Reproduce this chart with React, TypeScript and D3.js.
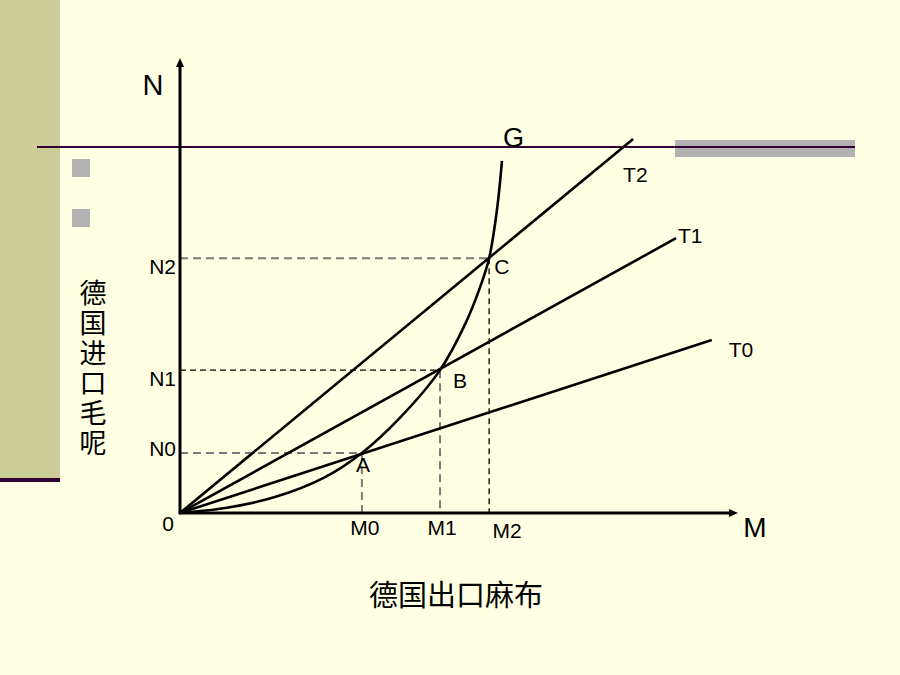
import * as d3 from "d3";

const W = 900;
const H = 675;

// offer curve G (德国), in axis units (0..10)
const G_M = [0, 0.81, 1.7, 2.6, 3.26, 3.94, 4.66, 5.11, 5.38, 5.54, 5.68, 5.77];
const G_N = [0, 0.11, 0.35, 0.79, 1.32, 2.09, 3.14, 4.15, 4.97, 5.6, 6.66, 7.74];

// terms-of-trade rays from the origin
const T_LABELS = ["T0", "T1", "T2"];
const T_END_M = [9.53, 8.89, 8.12];
const T_END_N = [3.8, 6.04, 8.22];

// equilibrium points
const EQ_LABELS = ["A", "B", "C"];
const EQ_M = [3.26, 4.66, 5.54];
const EQ_N = [1.32, 3.14, 5.6];
const M_TICKS = ["M0", "M1", "M2"];
const N_TICKS = ["N0", "N1", "N2"];

const Y_TITLE = "德国进口毛呢";
const X_TITLE = "德国出口麻布";

const LATIN = "'Liberation Sans', Arial, sans-serif";
const CJK = "'Noto Sans CJK SC', sans-serif";

export default function App() {
  const x = d3.scaleLinear().domain([0, 10]).range([180, 738]);
  const y = d3.scaleLinear().domain([0, 10]).range([513, 58]);

  const gLine = d3
    .line<number>()
    .x((d) => x(G_M[d]))
    .y((d) => y(G_N[d]))
    .curve(d3.curveCatmullRom.alpha(0.5));

  // hand nudges for labels, as on the slide
  const tNudge = [
    [17, 17],
    [2, 5],
    [-10, 43],
  ];
  const eqNudge = [
    [-6, 19],
    [13, 18],
    [5, 16],
  ];
  const nNudge = [3, 16, 16];
  const mNudge = [
    [3, 22],
    [2, 22],
    [18, 25],
  ];
  const hDash = ["#7a7a7a", "#000", "#7a7a7a"];
  const vDash = ["#7a7a7a", "#7a7a7a", "#000"];

  const x0 = x(0);
  const y0 = y(0);

  return (
    <svg
      width={W}
      height={H}
      style={{ position: "absolute", left: 0, top: 0, display: "block" }}
    >
      <rect width={W} height={H} fill="#FFFFE3" />
      {/* slide decoration */}
      <rect x={0} y={0} width={60} height={478} fill="#CCCC99" />
      <rect x={0} y={478} width={60} height={4} fill="#330033" />
      <rect x={675} y={140} width={180} height={17} fill="#B2B2B2" />
      <line x1={37} x2={855} y1={147} y2={147} stroke="#330033" strokeWidth={2} />
      <rect x={72} y={159} width={18} height={18} fill="#B2B2B2" />
      <rect x={72} y={209} width={18} height={18} fill="#B2B2B2" />

      {/* dashed guides */}
      {EQ_M.map((m, i) => (
        <g key={"d" + i} fill="none">
          <line
            x1={x0}
            x2={x(m)}
            y1={y(EQ_N[i])}
            y2={y(EQ_N[i])}
            stroke={hDash[i]}
            strokeWidth={hDash[i] === "#000" ? 1.3 : 2}
            strokeDasharray={hDash[i] === "#000" ? "6 4" : "8 5"}
          />
          <line
            x1={x(m)}
            x2={x(m)}
            y1={y(EQ_N[i])}
            y2={y0}
            stroke={vDash[i]}
            strokeWidth={vDash[i] === "#000" ? 1.3 : 2}
            strokeDasharray={vDash[i] === "#000" ? "6 4" : "8 5"}
          />
        </g>
      ))}

      {/* rays */}
      {T_END_M.map((m, i) => (
        <g key={"t" + i}>
          <line
            x1={x0}
            y1={y0}
            x2={x(m)}
            y2={y(T_END_N[i])}
            stroke="#000"
            strokeWidth={2.6}
          />
          <text
            x={x(m) + tNudge[i][0]}
            y={y(T_END_N[i]) + tNudge[i][1]}
            fontFamily={LATIN}
            fontSize={21}
          >
            {T_LABELS[i]}
          </text>
        </g>
      ))}

      {/* offer curve */}
      <path d={gLine(d3.range(G_M.length)) ?? ""} fill="none" stroke="#000" strokeWidth={2.6} />
      <text
        x={x(G_M[G_M.length - 1]) + 1}
        y={147}
        fontFamily={LATIN}
        fontSize={27}
      >
        G
      </text>

      {/* axes */}
      <line x1={x0} y1={y0} x2={x0} y2={y(10) + 6} stroke="#000" strokeWidth={3} />
      <path
        d={`M${x0},${y(10)} L${x0 - 4},${y(10) + 9} L${x0 + 4},${y(10) + 9} Z`}
        fill="#000"
      />
      <line x1={x0 - 1.5} y1={y0} x2={x(10) - 6} y2={y0} stroke="#000" strokeWidth={3} />
      <path
        d={`M${x(10)},${y0} L${x(10) - 9},${y0 - 4} L${x(10) - 9},${y0 + 4} Z`}
        fill="#000"
      />

      <text x={153} y={95} textAnchor="middle" fontFamily={LATIN} fontSize={29}>
        N
      </text>
      <text x={755} y={537} textAnchor="middle" fontFamily={LATIN} fontSize={28}>
        M
      </text>
      <text x={168} y={531} textAnchor="middle" fontFamily={LATIN} fontSize={21}>
        0
      </text>

      {N_TICKS.map((t, i) => (
        <text
          key={t}
          x={x0 - 4}
          y={y(EQ_N[i]) + nNudge[i]}
          textAnchor="end"
          fontFamily={LATIN}
          fontSize={21}
        >
          {t}
        </text>
      ))}
      {M_TICKS.map((t, i) => (
        <text
          key={t}
          x={x(EQ_M[i]) + mNudge[i][0]}
          y={y0 + mNudge[i][1]}
          textAnchor="middle"
          fontFamily={LATIN}
          fontSize={21}
        >
          {t}
        </text>
      ))}
      {EQ_LABELS.map((t, i) => (
        <text
          key={t}
          x={x(EQ_M[i]) + eqNudge[i][0]}
          y={y(EQ_N[i]) + eqNudge[i][1]}
          fontFamily={LATIN}
          fontSize={21}
        >
          {t}
        </text>
      ))}

      {/* titles */}
      <text
        x={93}
        y={279}
        style={{ writingMode: "vertical-rl" }}
        letterSpacing={3}
        fontFamily={CJK}
        fontSize={27}
      >
        {Y_TITLE}
      </text>
      <text
        x={456}
        y={593}
        textAnchor="middle"
        dominantBaseline="central"
        fontFamily={CJK}
        fontSize={29}
      >
        {X_TITLE}
      </text>
    </svg>
  );
}
